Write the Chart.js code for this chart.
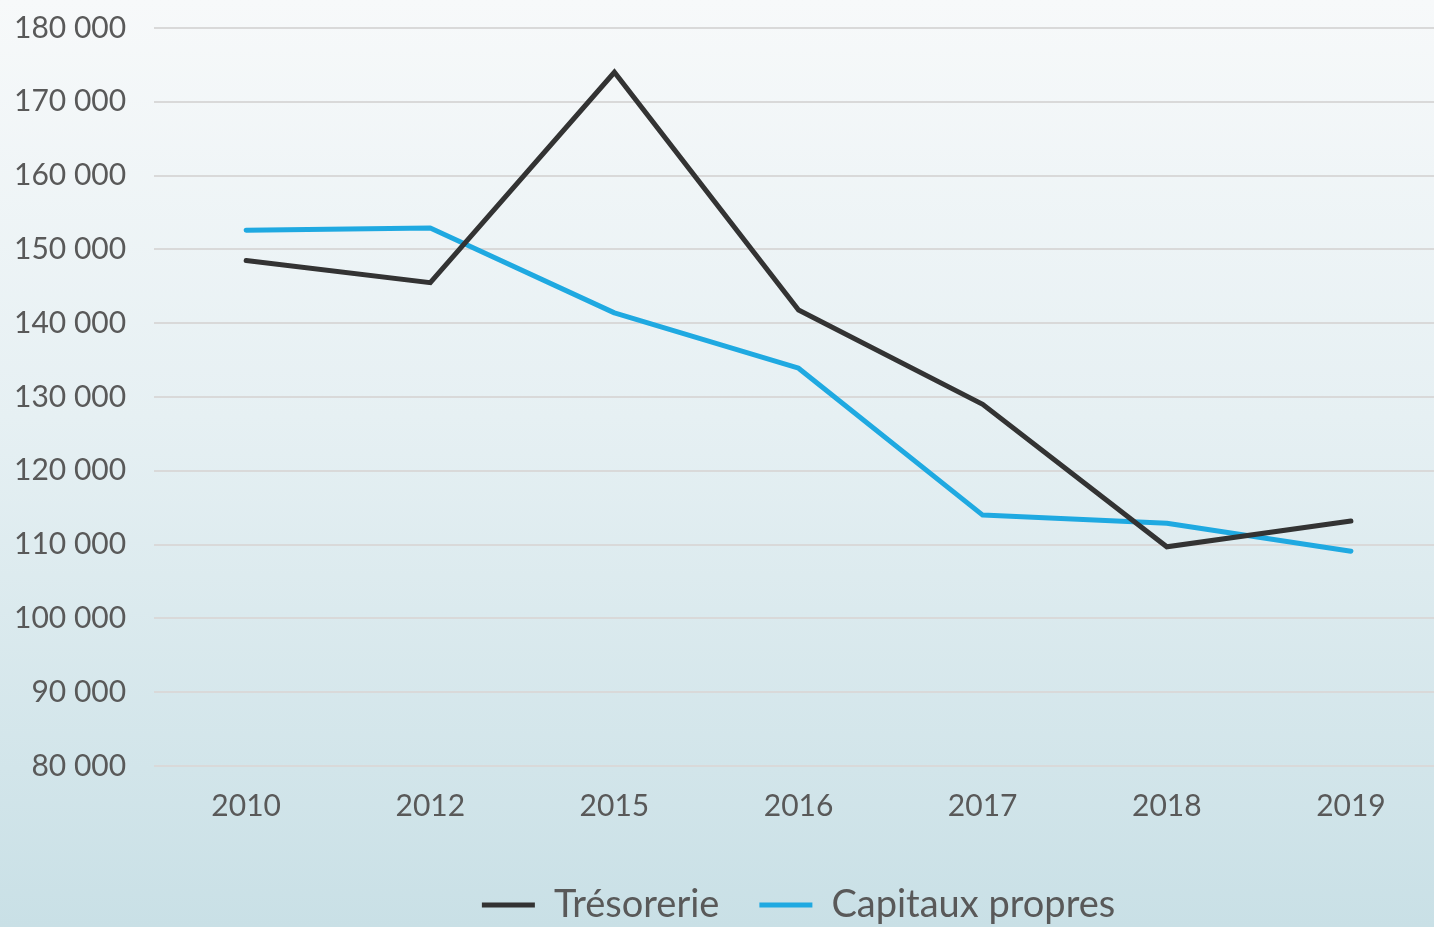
<!DOCTYPE html>
<html>
<head>
<meta charset="utf-8">
<script src="https://cdn.jsdelivr.net/npm/chart.js@4/dist/chart.umd.min.js"></script>
<style>
  html, body { margin: 0; padding: 0; overflow: hidden; }
  body {
    width: 1434px; height: 927px;
    background: linear-gradient(to bottom, #f7f9fa 0%, #e6f0f3 45%, #c9e0e6 100%);
  }
  #wrap { position: relative; width: 1444px; height: 927px; }
</style>
</head>
<body>
<div id="wrap"><canvas id="myChart"></canvas></div>
<script>
// annees (axe x)
const years = ['2010', '2012', '2015', '2016', '2017', '2018', '2019']

// valeurs
const tresorerie = [148500, 145500, 174000, 141800, 129000, 109700, 113200]
const capitauxPropres = [152600, 152900, 141400, 133900, 114000, 112900, 109100]

const yMin = 80000
const yMax = 180000
const yStep = 10000

const textColor = '#595959'
const fontFamily = 'Lato, "Noto Sans", sans-serif'

function fmt(v) {
  return String(v).replace(/\B(?=(\d{3})+(?!\d))/g, ' ')
}

const data = {
  labels: years,
  datasets: [{
    label: 'Trésorerie',
    data: tresorerie,
    borderColor: '#333333',
    backgroundColor: '#333333',
    borderWidth: 5,
    borderCapStyle: 'round',
    borderJoinStyle: 'miter',
    pointRadius: 0,
    tension: 0
  }, {
    label: 'Capitaux propres',
    data: capitauxPropres,
    borderColor: '#1fa9e1',
    backgroundColor: '#1fa9e1',
    borderWidth: 5,
    borderCapStyle: 'round',
    borderJoinStyle: 'round',
    pointRadius: 0,
    tension: 0
  }]
}

const config = {
  type: 'line',
  data: data,
  options: {
    responsive: false,
    animation: false,
    layout: { padding: { left: -14, right: 1, top: 0, bottom: -7 } },
    plugins: {
      tooltip: { enabled: false },
      legend: {
        position: 'bottom',
        fullSize: false,
        labels: {
          usePointStyle: true,
          pointStyle: 'line',
          pointStyleWidth: 53,
          padding: 40,
          color: textColor,
          font: { family: fontFamily, size: 38 }
        }
      }
    },
    scales: {
      x: {
        offset: true,
        grid: { display: false, drawTicks: false },
        border: { display: false },
        ticks: {
          color: textColor,
          padding: 22,
          font: { family: fontFamily, size: 30 }
        }
      },
      y: {
        min: yMin,
        max: yMax,
        grid: { color: '#d9d9d9', lineWidth: 2, drawTicks: false },
        border: { display: false },
        afterFit: (scale) => {
          // space above the top grid line
          scale.paddingTop = 28
          scale.paddingBottom = 18
        },
        ticks: {
          stepSize: yStep,
          padding: 28,
          color: textColor,
          font: { family: fontFamily, size: 30 },
          callback: (v) => fmt(v)
        }
      }
    }
  }
}

const canvas = document.getElementById('myChart')
canvas.width = 1444
canvas.height = 927
const myChart = new Chart(canvas, config)
</script>
</body>
</html>
